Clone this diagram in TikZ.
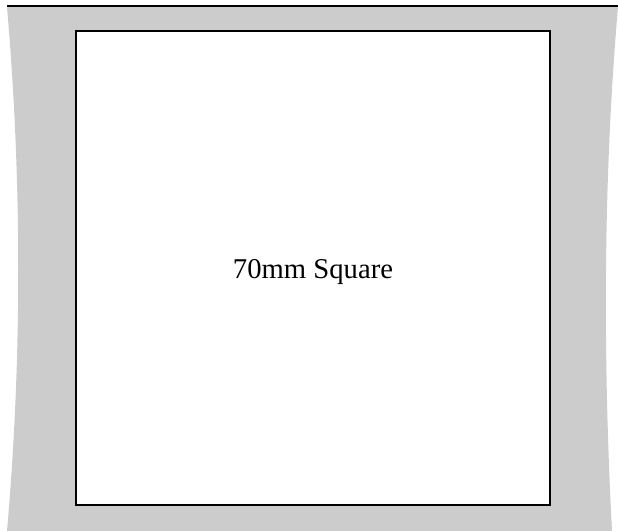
\documentclass[tikz,border=0pt]{standalone}
\usepackage{fontspec}
\setmainfont{Liberation Serif}
\usepackage{xcolor}
\definecolor{frameGray}{HTML}{CCCCCC}

\begin{document}
\begin{tikzpicture}[x=0.75pt, y=-0.75pt]
            \useasboundingbox (0,0) rectangle (618,531);
            % grey backing with curved sides
            \fill[frameGray] (7,7) .. controls (22,180) and (22,360) .. (7,531) -- (612,531) .. controls (603,360) and (603,180) .. (618,7) -- cycle;
            \draw[line width=1.5pt] (7,6) -- (618,6);
            
            \node[draw, rectangle, fill=white, line width=1.1pt, minimum width=355.5pt, minimum height=355.5pt, text height=19pt, text depth=3pt, font=\fontsize{21.5}{25}\selectfont] (sq) at (313,268) {70mm Square};
        \end{tikzpicture}
\end{document}
